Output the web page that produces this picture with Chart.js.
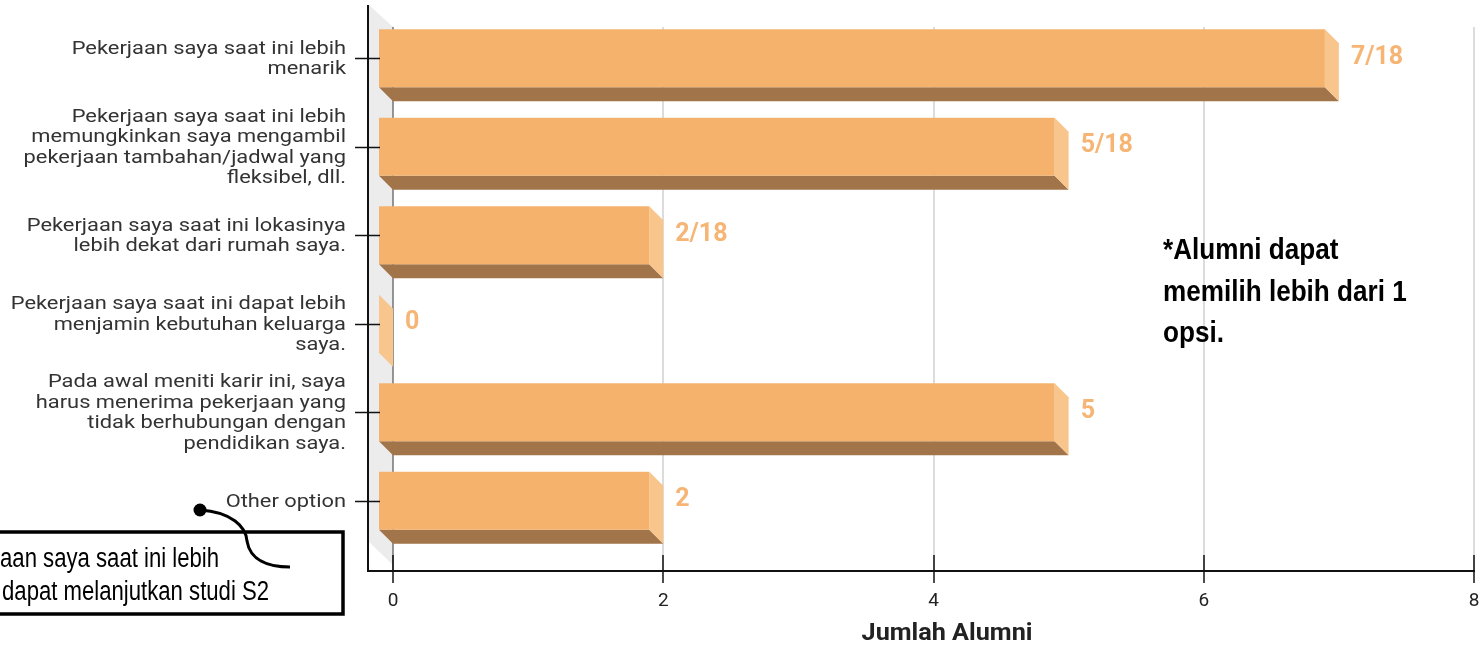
<!DOCTYPE html>
<html>
<head>
<meta charset="utf-8">
<script src="https://cdn.jsdelivr.net/npm/chart.js@4.4.0/dist/chart.umd.min.js"></script>
<style>
  html, body { margin: 0; padding: 0; background: #fff; }
  #wrap { width: 1482px; height: 645px; }
</style>
</head>
<body>
<div id="wrap"><canvas id="chart" width="1482" height="645"></canvas></div>
<script>
// data
const categories = [
    ['Pekerjaan saya saat ini lebih', 'menarik'],
    ['Pekerjaan saya saat ini lebih', 'memungkinkan saya mengambil', 'pekerjaan tambahan/jadwal yang', 'fleksibel, dll.'],
    ['Pekerjaan saya saat ini lokasinya', 'lebih dekat dari rumah saya.'],
    ['Pekerjaan saya saat ini dapat lebih', 'menjamin kebutuhan keluarga', 'saya.'],
    ['Pada awal meniti karir ini, saya', 'harus menerima pekerjaan yang', 'tidak berhubungan dengan', 'pendidikan saya.'],
    ['Other option']
];
const jumlahAlumni = [7, 5, 2, 0, 5, 2];
const valueLabels = ['7/18', '5/18', '2/18', '0', '5', '2'];
const xTicks = [0, 2, 4, 6, 8];
const axisTitle = 'Jumlah Alumni';
const noteLines = ['*Alumni dapat', 'memilih lebih dari 1', 'opsi.'];
const calloutLines = ['aan saya saat ini lebih', 'dapat melanjutkan studi S2'];

// warna
const FRONT = '#f5b26d';
const BOTTOM = '#a27449';
const SIDE = '#f8c58d';
const LABEL = '#f6b574';
const DEPTH = 14;

// teks yang dilebarkan / dipersempit
function stretchText(ctx, text, x, y, sx) {
    ctx.save();
    ctx.translate(x, y);
    ctx.scale(sx, 1);
    ctx.fillText(text, 0, 0);
    ctx.restore();
}

// plugin gambar 3D dan anotasi
const bar3d = {
    id: 'bar3d',
    beforeDatasetsDraw(chart) {
        const ctx = chart.ctx;
        const xs = chart.scales.x;
        const top = 27, axisY = 570;
        ctx.save();
        // dinding kiri
        ctx.fillStyle = '#ececec';
        ctx.beginPath();
        ctx.moveTo(369, 5);
        ctx.lineTo(xs.getPixelForValue(0), top);
        ctx.lineTo(xs.getPixelForValue(0), axisY - 5);
        ctx.lineTo(369, axisY - 28);
        ctx.closePath();
        ctx.fill();
        // grid
        xTicks.forEach(v => {
            const x = Math.round(xs.getPixelForValue(v));
            ctx.strokeStyle = v === 0 ? '#555' : '#dcdcdc';
            ctx.lineWidth = v === 0 ? 1.2 : 2;
            ctx.beginPath();
            ctx.moveTo(x, top);
            ctx.lineTo(x, axisY);
            ctx.stroke();
        });
        ctx.restore();
    },
    afterDatasetsDraw(chart) {
        const ctx = chart.ctx;
        const xs = chart.scales.x;
        const ys = chart.scales.y;
        const meta = chart.getDatasetMeta(0);
        ctx.save();
        meta.data.forEach((el, i) => {
            const h = el.height;
            const base = el.base;
            const xe = el.x;
            const y0 = el.y - h / 2, y1 = el.y + h / 2;
            // sisi bawah
            ctx.fillStyle = BOTTOM;
            ctx.beginPath();
            ctx.moveTo(base - DEPTH, y1);
            ctx.lineTo(xe - DEPTH, y1);
            ctx.lineTo(xe, y1 + DEPTH);
            ctx.lineTo(base, y1 + DEPTH);
            ctx.closePath();
            ctx.fill();
            // sisi kanan
            ctx.fillStyle = SIDE;
            ctx.beginPath();
            ctx.moveTo(xe - DEPTH, y0);
            ctx.lineTo(xe, y0 + DEPTH);
            ctx.lineTo(xe, y1 + DEPTH);
            ctx.lineTo(xe - DEPTH, y1);
            ctx.closePath();
            ctx.fill();
            // muka depan
            if (xe > base) {
                ctx.fillStyle = FRONT;
                ctx.fillRect(base - DEPTH, y0, xe - base, h);
            }
            // label nilai
            ctx.fillStyle = LABEL;
            ctx.font = 'bold 25px Roboto';
            ctx.textAlign = 'left';
            ctx.textBaseline = 'middle';
            ctx.fillText(valueLabels[i], xe + 12, el.y - 1);
        });

        // label kategori
        ctx.fillStyle = '#333';
        ctx.font = '19px Roboto';
        ctx.textAlign = 'right';
        ctx.textBaseline = 'middle';
        categories.forEach((lines, i) => {
            const yc = ys.getPixelForValue(i) + 1;
            lines.forEach((t, k) => {
                stretchText(ctx, t, 346, yc + (k - (lines.length - 1) / 2) * 20.5, 1.15);
            });
        });

        // sumbu
        ctx.strokeStyle = '#111';
        ctx.lineWidth = 2;
        ctx.beginPath();
        ctx.moveTo(368, 5);
        ctx.lineTo(368, 571);
        ctx.lineTo(xs.getPixelForValue(8) + 1, 571);
        ctx.stroke();
        ctx.lineWidth = 1.5;
        xTicks.forEach(v => {
            const x = Math.round(xs.getPixelForValue(v));
            ctx.beginPath();
            ctx.moveTo(x, 555);
            ctx.lineTo(x, 583);
            ctx.stroke();
        });
        categories.forEach((c, i) => {
            const y = Math.round(ys.getPixelForValue(i)) + 0.5;
            ctx.beginPath();
            ctx.moveTo(355, y);
            ctx.lineTo(380, y);
            ctx.stroke();
        });

        // judul sumbu
        ctx.fillStyle = '#222';
        ctx.font = 'bold 24px Roboto';
        ctx.textAlign = 'center';
        ctx.textBaseline = 'middle';
        stretchText(ctx, axisTitle, 947, 634, 1.05);

        // catatan
        ctx.fillStyle = '#000';
        ctx.textAlign = 'left';
        ctx.textBaseline = 'alphabetic';
        ctx.font = 'bold 29px "Liberation Sans", Arial, sans-serif';
        noteLines.forEach((t, i) => stretchText(ctx, t, 1163, 259 + i * 41.5, 0.9));

        // kotak keterangan
        ctx.fillStyle = '#fff';
        ctx.fillRect(-5, 532, 348, 82);
        ctx.strokeStyle = '#000';
        ctx.lineWidth = 3.5;
        ctx.strokeRect(-5, 532, 348, 82);
        ctx.fillStyle = '#000';
        ctx.font = '27px "Liberation Sans", Arial, sans-serif';
        stretchText(ctx, calloutLines[0], 0, 567, 0.82);
        stretchText(ctx, calloutLines[1], 2, 600, 0.82);

        // garis penunjuk
        ctx.lineWidth = 3;
        ctx.beginPath();
        ctx.moveTo(200, 510);
        ctx.bezierCurveTo(232, 512, 246, 527, 247, 541);
        ctx.bezierCurveTo(250, 560, 268, 567, 290, 567);
        ctx.stroke();
        ctx.beginPath();
        ctx.arc(200, 510, 6.5, 0, Math.PI * 2);
        ctx.fill();
        ctx.restore();
    }
};

new Chart(document.getElementById('chart'), {
    type: 'bar',
    data: {
        labels: categories,
        datasets: [{
            label: axisTitle,
            data: jumlahAlumni,
            backgroundColor: 'rgba(0,0,0,0)',
            borderWidth: 0,
            categoryPercentage: 1,
            barPercentage: 0.655
        }]
    },
    options: {
        indexAxis: 'y',
        responsive: false,
        animation: false,
        layout: { padding: { top: 14, right: 8, left: 0, bottom: 0 } },
        plugins: { legend: { display: false }, tooltip: { enabled: false } },
        scales: {
            x: {
                min: 0,
                max: 8,
                ticks: { stepSize: 2, color: '#222', font: { family: 'Roboto', size: 19 }, padding: 45 },
                grid: { display: false, drawTicks: false },
                border: { display: false },
                afterFit: s => {
                    s.height = 100;
                    s.paddingLeft = 0;
                    s.paddingRight = 0;
                }
            },
            y: {
                ticks: { display: false },
                grid: { display: false, drawTicks: false },
                border: { display: false },
                afterFit: s => {
                    s.width = 393;
                    s.paddingTop = 0;
                    s.paddingBottom = 0;
                }
            }
        }
    },
    plugins: [bar3d]
});
</script>
</body>
</html>
